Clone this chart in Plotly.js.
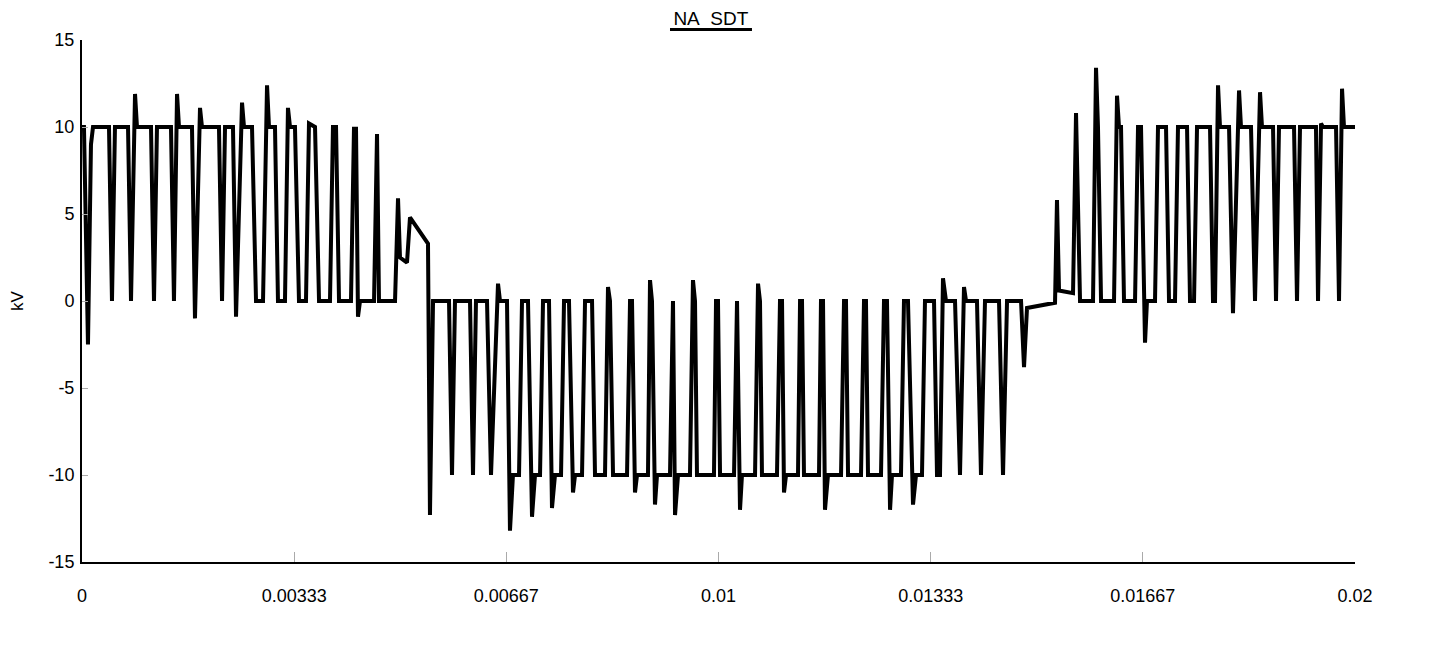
<!DOCTYPE html>
<html>
<head>
<meta charset="utf-8">
<script src="https://cdn.plot.ly/plotly-3.0.1.min.js"></script>
<style>html,body{margin:0;padding:0;background:#fff;}#chart{width:1431px;height:653px;}</style>
</head>
<body>
<div id="chart"></div>
<script>
// Time (s) and voltage (kV)
const timeS = [
  0, 0.000031, 0.000094, 0.000141, 0.000173,
  0.000424, 0.000471, 0.000518,
  0.000723, 0.000770, 0.000833, 0.000864,
  0.001084, 0.001131, 0.001178,
  0.001398, 0.001445, 0.001493, 0.001524,
  0.001728, 0.001775, 0.001854, 0.001885,
  0.002152, 0.002200, 0.002247,
  0.002372, 0.002420, 0.002514, 0.002545,
  0.002671, 0.002734,
  0.002844, 0.002907, 0.002938, 0.003032, 0.003079,
  0.003189, 0.003236, 0.003268, 0.003346, 0.003409,
  0.003519, 0.003566, 0.003661, 0.003724,
  0.003896, 0.003943, 0.003991, 0.004038,
  0.004226, 0.004273, 0.004305, 0.004336, 0.004368,
  0.004588, 0.004635, 0.004666,
  0.004918, 0.004965, 0.004996, 0.005106, 0.005153, 0.005436, 0.005467, 0.005515,
  0.005766, 0.005813, 0.005860,
  0.006096, 0.006143, 0.006190,
  0.006363, 0.006426, 0.006536, 0.006567,
  0.006677, 0.006724, 0.006771, 0.006866, 0.006913,
  0.007007, 0.007070, 0.007117, 0.007196, 0.007243,
  0.007337, 0.007384, 0.007431, 0.007526, 0.007573,
  0.007651, 0.007714, 0.007746, 0.007856, 0.007903,
  0.008013, 0.008060,
  0.008217, 0.008264, 0.008295, 0.008343,
  0.008563, 0.008610, 0.008641, 0.008688, 0.008720,
  0.008892, 0.008924, 0.008955, 0.009002, 0.009034,
  0.009238, 0.009285, 0.009317, 0.009364,
  0.009552, 0.009599, 0.009631, 0.009662,
  0.009929, 0.009961, 0.009992, 0.010024,
  0.010244, 0.010291, 0.010338, 0.010369,
  0.010574, 0.010621, 0.010652, 0.010683,
  0.010919, 0.010966, 0.010998, 0.011029, 0.011061,
  0.011249, 0.011281, 0.011312, 0.011343,
  0.011579, 0.011610, 0.011642, 0.011673, 0.011720,
  0.011925, 0.011972, 0.012003, 0.012035,
  0.012239, 0.012286, 0.012317, 0.012349,
  0.012553, 0.012600, 0.012647, 0.012695, 0.012726,
  0.012867, 0.012914, 0.012977, 0.013056, 0.013103,
  0.013197, 0.013244, 0.013386, 0.013433,
  0.013480, 0.013527, 0.013574,
  0.013716, 0.013794, 0.013857, 0.013889,
  0.014061, 0.014124, 0.014187,
  0.014407, 0.014470, 0.014533,
  0.014753, 0.014800, 0.014847, 0.015287,
  0.015318, 0.015350, 0.015570, 0.015617, 0.015680,
  0.015884, 0.015931, 0.015962, 0.016010,
  0.016214, 0.016261, 0.016292, 0.016324, 0.016371,
  0.016544, 0.016591, 0.016638, 0.016701, 0.016732,
  0.016858, 0.016905, 0.017031, 0.017078,
  0.017172, 0.017219, 0.017361, 0.017408,
  0.017471, 0.017518, 0.017722, 0.017769,
  0.017801, 0.017848, 0.017879,
  0.018021, 0.018083, 0.018178, 0.018209,
  0.018366, 0.018429, 0.018508, 0.018539,
  0.018712, 0.018759, 0.018806,
  0.019042, 0.019089, 0.019136,
  0.019387, 0.019419, 0.019466, 0.019497,
  0.019702, 0.019749, 0.019796, 0.019827, 0.020000
];
const voltageKV = [
  10, 10, -2.5, 9, 10,
  10, 0, 10,
  10, 0, 11.9, 10,
  10, 0, 10,
  10, 0, 11.9, 10,
  10, -1.0, 11.1, 10,
  10, 0, 10,
  10, -0.9, 11.4, 10,
  10, 0,
  0, 12.4, 10, 10, 0,
  0, 11.1, 10, 10, 0,
  0, 10.2, 10, 0,
  0, 10, 10, 0,
  0, 9.9, 9.9, -0.9, 0,
  0, 9.6, 0,
  0, 5.9, 2.5, 2.2, 4.8, 3.3, -12.3, 0,
  0, -10, 0,
  0, -10, 0,
  0, -10, 1.0, 0,
  0, -13.2, -10, -10, 0,
  0, -12.4, -10, -10, 0,
  0, -11.9, -10, -10, 0,
  0, -11, -10, -10, 0,
  0, -10,
  -10, 0.8, 0, -10,
  -10, 0, 0, -11, -10,
  -10, 1.2, 0, -11.7, -10,
  -10, 0, -12.3, -10,
  -10, 1.2, 0, -10,
  -10, 0, 0, -10,
  -10, 0, -12, -10,
  -10, 1.0, 0, -10,
  -10, 0, 0, -11, -10,
  -10, 0, 0, -10,
  -10, 0, 0, -12, -10,
  -10, 0, 0, -10,
  -10, 0, 0, -10,
  -10, 0, 0, -12, -10,
  -10, 0, 0, -11.7, -10,
  -10, 0, 0, -10,
  -10, 1.3, 0,
  0, -10, 0.8, 0,
  0, -10, 0,
  0, -10, 0,
  0, -3.8, -0.4, -0.1,
  5.8, 0.6, 0.45, 10.8, 0,
  0, 13.4, 10, 0,
  0, 11.8, 10, 10, 0,
  0, 10, 10, -2.4, 0,
  0, 10, 10, 0,
  0, 10, 10, 0,
  0, 10, 10, 0,
  0, 12.4, 10,
  10, -0.7, 12.1, 10,
  10, 0, 12.0, 10,
  10, 0, 10,
  10, 0, 10,
  10, 0, 10.2, 10,
  10, 0, 12.2, 10, 10
];
const xTickVals = [0, 0.0033333, 0.0066667, 0.01, 0.0133333, 0.0166667, 0.02];
const xTickText = ['0', '0.00333', '0.00667', '0.01', '0.01333', '0.01667', '0.02'];
const yTickVals = [-15, -10, -5, 0, 5, 10, 15];
const yTickText = ['-15', '-10', '-5', '0', '5', '10', '15'];
const titleText = 'NA_SDT';
const yTitle = 'kV';

const font = 'Liberation Sans, Arial, sans-serif';
const trace = {
  x: timeS, y: voltageKV, type: 'scatter', mode: 'lines',
  line: {color: '#000000', width: 4},
  hoverinfo: 'skip'
};
const layout = {
  width: 1431, height: 653,
  margin: {l: 82, r: 76, t: 40, b: 91},
  paper_bgcolor: '#ffffff', plot_bgcolor: '#ffffff',
  showlegend: false,
  font: {family: font, size: 18, color: '#000000'},
  title: {text: titleText, font: {family: font, size: 19, color: '#000000'},
    x: 0.494, xref: 'paper', xanchor: 'center', y: 0.972, yref: 'container', yanchor: 'middle'},
  xaxis: {
    range: [0, 0.02], tickmode: 'array', tickvals: xTickVals, ticktext: xTickText,
    showgrid: false, zeroline: false, showline: true, linecolor: '#000000', linewidth: 2,
    ticks: 'inside', ticklen: 10, tickcolor: '#aaaaaa', tickwidth: 1,
    ticklabelstandoff: 16,
    tickfont: {family: font, size: 18, color: '#000000'}
  },
  yaxis: {
    range: [-15, 15], tickmode: 'array', tickvals: yTickVals, ticktext: yTickText,
    showgrid: false, zeroline: false, showline: true, linecolor: '#000000', linewidth: 2,
    ticks: 'inside', ticklen: 6, tickcolor: '#aaaaaa', tickwidth: 1,
    ticklabelstandoff: 2,
    tickfont: {family: font, size: 18, color: '#000000'},
    title: {text: yTitle, font: {family: font, size: 17, color: '#000000'}, standoff: 20}
  },
  shapes: [{type: 'line', xref: 'paper', yref: 'paper', x0: 0.4619, x1: 0.5263, y0: 1.0201, y1: 1.0201,
    line: {color: '#000000', width: 3}}]
};
Plotly.newPlot('chart', [trace], layout, {displayModeBar: false, staticPlot: true});
</script>
</body>
</html>
